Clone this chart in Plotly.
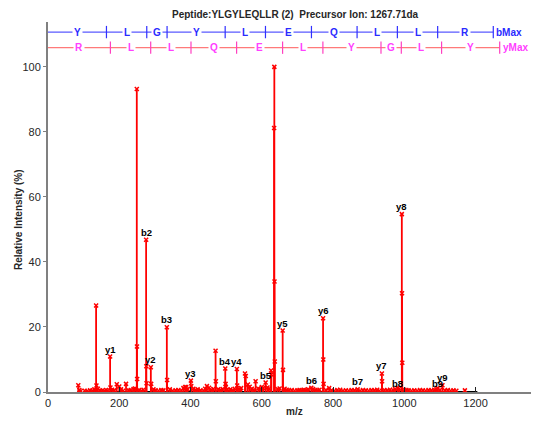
import plotly.graph_objects as go

# ---- data ----
peak_mz = [85, 135, 136, 174.3, 175.3, 193, 200, 219, 249.2, 249.7, 250.2,
           275.4, 276, 276.5, 288.6, 289.5, 333.5, 334.3, 385, 401, 402, 446,
           470.3, 471, 497.5, 498.3, 499, 530, 531, 552.8, 555, 561, 582.7, 600,
           610.8, 626, 627, 634.6, 635.2, 635.7, 636.5, 658.6, 659.5, 739,
           772, 772.6, 773.4, 789, 869, 937, 937.6, 982, 993, 993.6, 994.3,
           1094, 1107, 1170]
peak_int = [2.1, 26.6, 2.0, 10.9, 1.4, 2.4, 1.7, 2.5, 93.2, 14.0, 4.0,
            46.8, 7.9, 2.7, 7.6, 2.5, 19.9, 3.7, 1.5, 3.5, 1.8, 1.8,
            12.7, 3.3, 7.2, 2.5, 1.5, 7.1, 2.0, 5.7, 4.9, 2.3, 3.3, 1.5,
            2.9, 6.6, 5.4, 81.2, 100, 34.0, 9.4, 18.9, 6.8, 1.3,
            22.7, 10.0, 2.5, 1.2, 0.8, 5.7, 3.3, 1.3, 54.7, 30.4, 9.0,
            1.2, 2.1, 0.5]

noise_mz = [88, 92, 103, 110, 118, 124, 130, 140, 146, 152, 158, 163, 168, 180,
            186, 205, 211, 226, 232, 240, 244, 256, 262, 268, 296, 302, 310, 318,
            324, 342, 350, 358, 366, 374, 380, 388, 392, 408, 414, 420, 428, 436,
            441, 452, 458, 464, 478, 484, 490, 504, 512, 518, 524, 536, 542, 566,
            572, 578, 590, 596, 604, 616, 620, 644, 650, 664, 670, 676, 684, 692,
            700, 706, 712, 718, 724, 730, 744, 750, 756, 762, 780, 796, 804, 812,
            820, 828, 836, 844, 852, 860, 876, 884, 892, 900, 908, 916, 924, 930,
            944, 952, 960, 968, 974, 986, 1000, 1006, 1012, 1020, 1028, 1036,
            1044, 1052, 1060, 1068, 1076, 1084, 1090, 1100, 1114, 1122, 1130,
            1138, 1146]
noise_int = [0.6, 0.3, 0.4, 0.3, 0.5, 0.4, 0.8, 1.0, 0.5, 0.4, 0.3, 0.6, 0.4, 0.7,
             0.5, 0.8, 0.4, 0.5, 0.6, 0.9, 1.1, 0.6, 0.4, 0.7, 0.8, 0.5, 0.4, 0.6,
             0.5, 0.8, 0.4, 0.5, 0.6, 0.4, 1.2, 1.5, 0.9, 1.0, 0.6, 0.8, 0.5, 0.4,
             1.0, 1.3, 0.7, 0.9, 0.8, 0.6, 0.9, 0.7, 0.8, 0.5, 1.0, 0.9, 1.2, 1.6,
             1.0, 0.7, 1.1, 0.8, 1.2, 1.4, 1.0, 0.9, 1.1, 1.0, 0.7, 0.5, 0.6, 0.4,
             0.5, 0.6, 0.5, 0.7, 0.5, 0.8, 0.9, 0.6, 0.5, 0.7, 0.6, 0.5, 0.4, 0.6,
             0.7, 0.4, 0.5, 0.4, 0.6, 0.5, 0.4, 0.6, 0.5, 0.4, 0.6, 0.5, 0.7, 0.4,
             0.6, 0.5, 0.7, 0.6, 0.9, 1.0, 0.7, 0.6, 0.5, 0.4, 0.5, 0.4,
             0.6, 0.5, 0.4, 0.6, 0.5, 0.7, 0.8, 0.6, 0.5, 0.6, 0.4,
             0.5, 0.4]

ion_labels = ["y1", "b2", "y2", "b3", "y3", "b4", "y4", "b5", "y5", "b6", "y6",
              "b7", "y7", "b8", "y8", "b9", "y9"]
ion_mz = [174.3, 275.4, 288.6, 333.5, 401, 497.5, 530, 610.8, 658.6, 739, 772,
          869, 937, 982, 993, 1094, 1107]
ion_int = [10.9, 46.8, 7.6, 19.9, 3.5, 7.2, 7.1, 2.9, 18.9, 1.3, 22.7,
           0.8, 5.7, 1.3, 54.7, 1.2, 2.1]

b_residues = ["Y", "L", "G", "Y", "L", "E", "Q", "L", "L", "R"]
b_masses = [164.07, 277.16, 334.18, 497.24, 610.33, 739.37, 867.43, 980.51, 1093.6, 1249.7]
y_residues = ["R", "L", "L", "Q", "E", "L", "Y", "G", "L", "Y"]
y_masses = [175.12, 288.2, 401.29, 529.35, 658.39, 771.47, 934.54, 991.56, 1104.6, 1267.7]

b_level = 110.7
y_level = 105.9
tick_half = 1.9

title = "Peptide:YLGYLEQLLR (2)  Precursor Ion: 1267.71da"

# ---- figure ----
# the page places the figure at an 8px body offset; sizes compensate for it
OFF = 8
W, H = 539 - OFF, 421 - OFF
L, T, B = 48 - OFF, 22 - OFF, 421 - 392
PW, PH = W - L, H - T - B

fig = go.Figure()
RED = "#ff0000"
FONT = "Liberation Sans, Arial, sans-serif"
TXT = "#262626"

# baseline black line
fig.add_trace(go.Scatter(x=[100, 1205], y=[0, 0], mode="lines",
                         line=dict(color="black", width=2), hoverinfo="skip",
                         cliponaxis=False))

all_mz = noise_mz + peak_mz
all_int = noise_int + peak_int
sx, sy = [], []
for m, v in zip(all_mz, all_int):
    sx += [m, m, None]
    sy += [0, v, None]
fig.add_trace(go.Scatter(x=sx, y=sy, mode="lines", line=dict(color=RED, width=1.8),
                         hoverinfo="skip", cliponaxis=False))
fig.add_trace(go.Scatter(x=all_mz, y=all_int, mode="markers",
                         marker=dict(symbol="x-thin", size=4, color=RED,
                                     line=dict(color=RED, width=1.5)),
                         cliponaxis=False))

# ladders
def ladder(masses, residues, level, line_col, tick_col, text_col, end_label):
    fig.add_trace(go.Scatter(x=[0, masses[-1]], y=[level, level], mode="lines",
                             line=dict(color=line_col, width=1.2), hoverinfo="skip",
                             cliponaxis=False))
    tx, ty = [], []
    for m in masses:
        tx += [m, m, None]
        ty += [level - tick_half, level + tick_half, None]
    fig.add_trace(go.Scatter(x=tx, y=ty, mode="lines", line=dict(color=tick_col, width=1.2),
                             hoverinfo="skip", cliponaxis=False))
    prev = 0
    for m, r in zip(masses, residues):
        fig.add_annotation(x=(prev + m) / 2, y=level, text="<b>%s</b>" % r, showarrow=False,
                           font=dict(family=FONT, size=10, color=text_col),
                           bgcolor="white", borderpad=1, xanchor="center", yanchor="middle")
        prev = m
    fig.add_annotation(x=masses[-1], y=level, text="<b>%s</b>" % end_label, showarrow=False,
                       font=dict(family=FONT, size=10, color=text_col),
                       xanchor="left", yanchor="middle", xshift=1)

ladder(b_masses, b_residues, b_level, "#5a5aff", "#3030ff", "#2a2aff", "bMax")
ladder(y_masses, y_residues, y_level, "#ff7a7a", "#ff40c0", "#ff40ff", "yMax")

low_labels = {"b8", "b9"}
for lab, m, v in zip(ion_labels, ion_mz, ion_int):
    fig.add_annotation(x=m, y=v, text="<b>%s</b>" % lab, showarrow=False,
                       font=dict(family=FONT, size=9.5, color="black"),
                       xanchor="center", yanchor="bottom",
                       yshift=-3 if lab in low_labels else 0)

# title and axis titles as annotations (fixed positions)
fig.add_annotation(xref="paper", yref="paper", x=(295 - 48) / PW, y=1 + (22 - 14) / PH,
                   text="<b>%s</b>" % title, showarrow=False, xanchor="center",
                   yanchor="middle", font=dict(family=FONT, size=10, color=TXT))
fig.add_annotation(xref="paper", yref="paper", x=(294 - 48) / PW, y=-(412 - 392) / PH,
                   text="<b>m/z</b>", showarrow=False, xanchor="center", yanchor="middle",
                   font=dict(family=FONT, size=10, color=TXT))
fig.add_annotation(xref="paper", yref="paper", x=-(48 - 18) / PW, y=(392 - 220) / PH,
                   text="<b>Relative Intensity (%)</b>", showarrow=False, textangle=-90,
                   xanchor="center", yanchor="middle",
                   font=dict(family=FONT, size=10, color=TXT))

fig.update_layout(
    width=W, height=H,
    margin=dict(l=L, r=0, t=T, b=B, autoexpand=False),
    plot_bgcolor="white", paper_bgcolor="white",
    showlegend=False,
    font=dict(family=FONT, size=11, color=TXT),
    xaxis=dict(range=[0, 1378], tickvals=[0, 200, 400, 600, 800, 1000, 1200],
               showgrid=False, zeroline=False, showline=True, linecolor="#808080",
               linewidth=1.5, ticks="inside", ticklen=5, tickcolor="#202020",
               automargin=False,
               tickfont=dict(family=FONT, size=11, color=TXT)),
    yaxis=dict(range=[0, 113.8], tickvals=[0, 20, 40, 60, 80, 100],
               showgrid=False, zeroline=False, showline=True, linecolor="#808080",
               linewidth=2, ticks="outside", ticklen=3, tickcolor="#808080",
               automargin=False,
               tickfont=dict(family=FONT, size=11, color=TXT)),
)

fig.write_html("out.html")
